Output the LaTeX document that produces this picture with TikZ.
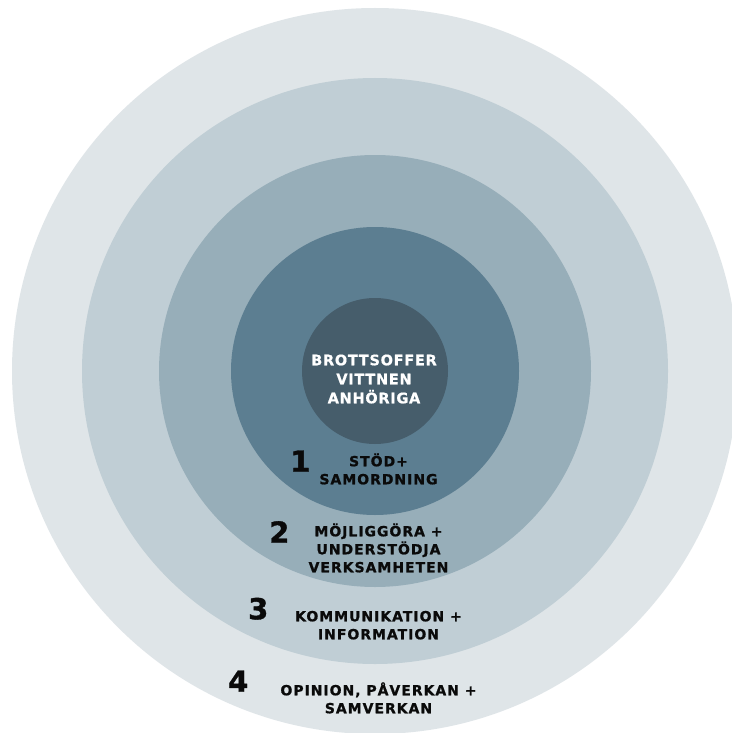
\documentclass[tikz,border=0pt]{standalone}
\usepackage{fontspec}
\newfontfamily\whitefont{DejaVu Sans Bold}[LetterSpace=5,FakeBold=0.8]
\newfontfamily\blackfont{DejaVu Sans Bold}[LetterSpace=7,FakeBold=1]
\newfontfamily\numfont{DejaVu Sans Bold}[FakeBold=1.2]
\definecolor{ringA}{RGB}{223,229,232}
\definecolor{ringB}{RGB}{192,206,213}
\definecolor{ringC}{RGB}{151,174,185}
\definecolor{ringD}{RGB}{92,126,145}
\definecolor{coreC}{RGB}{70,93,107}
\definecolor{txt}{RGB}{10,10,10}
\tikzset{
  ring/.style={circle, inner sep=0pt, draw=none},
  coretext/.style={text=white, font=\whitefont\fontsize{14.5}{19}\selectfont, align=center, inner sep=0pt, anchor=base},
  lbltext/.style={text=txt, font=\blackfont\fontsize{14}{18}\selectfont, align=center, inner sep=0pt, anchor=base},
  numtext/.style={text=txt, font=\numfont\fontsize{29}{30}\selectfont, inner sep=0pt, anchor=base west}
}
\begin{document}
\begin{tikzpicture}[x=1pt,y=-1pt]
\useasboundingbox (0,0) rectangle (731,733);
\fill[white] (0,0) rectangle (731,733);
\coordinate (c) at (375,371);
\node[ring, fill=ringA, minimum size=726pt] (r4) at (c) {};
\node[ring, fill=ringB, minimum size=586pt] (r3) at (c) {};
\node[ring, fill=ringC, minimum size=432pt] (r2) at (c) {};
\node[ring, fill=ringD, minimum size=288pt] (r1) at (c) {};
\node[ring, fill=coreC, minimum size=146pt] (core) at (c) {};
\node[coretext] (coretxt) at (374,403.3) {BROTTSOFFER\\VITTNEN\\ANHÖRIGA};
\node[numtext] (n1) at (290,471.7) {1};
\node[lbltext] (l1) at (378.5,484.3) {STÖD+\\SAMORDNING};
\node[numtext] (n2) at (269,542.7) {2};
\node[lbltext] (l2) at (378.5,572.3) {MÖJLIGGÖRA +\\UNDERSTÖDJA\\VERKSAMHETEN};
\node[numtext] (n3) at (248,619.3) {3};
\node[lbltext] (l3) at (378.5,639.3) {KOMMUNIKATION +\\INFORMATION};
\node[numtext] (n4) at (228,691.7) {4};
\node[lbltext] (l4) at (378.5,713.3) {OPINION, PÅVERKAN +\\SAMVERKAN};
\end{tikzpicture}
\end{document}
